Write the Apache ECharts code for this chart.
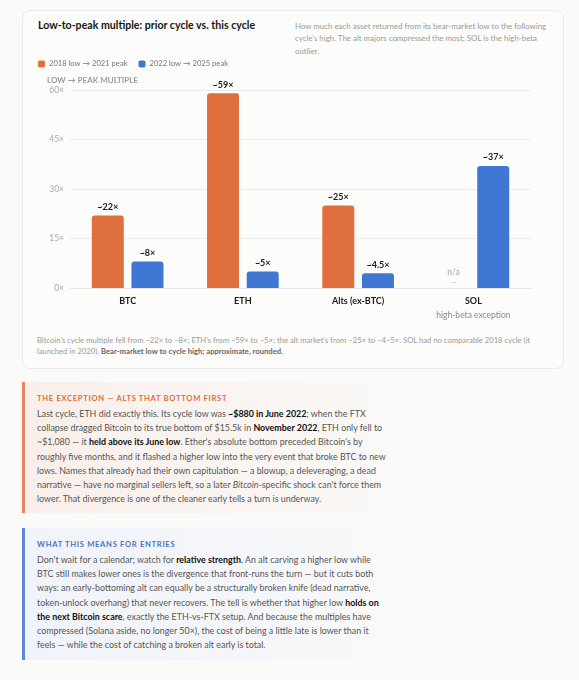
<!DOCTYPE html>
<html>
<head>
<meta charset="utf-8">
<script src="https://cdn.jsdelivr.net/npm/echarts@6/dist/echarts.min.js"></script>
<style>
  html, body { margin:0; padding:0; }
  body { width:579px; height:680px; background:#fafaf9; position:relative; overflow:hidden;
         font-family:"Lato","Open Sans",sans-serif; }
  .card { position:absolute; left:22px; top:10px; width:540px; height:357px;
          background:#fcfcfb; border:1px solid #eaeae8; border-radius:8px; }
  .title { position:absolute; left:38px; top:19px; font-size:10.6px; font-weight:700; color:#151515; white-space:nowrap; }
  .sub { position:absolute; left:295px; top:20px; font-size:7.9px; line-height:12.4px; color:#9a9a9a; white-space:nowrap; }
  #chart { position:absolute; left:22px; top:56px; width:541px; height:270px; }
  .foot { position:absolute; left:37px; top:335px; font-size:7.66px; line-height:10.5px; color:#9a9a9a; white-space:nowrap; }
  .foot b { color:#666; }
  .callout { position:absolute; left:22px; width:541px; box-sizing:border-box; padding-left:12px; }
  .c1 { top:382px; height:131px; border-left:3px solid #e0875f;
        background:linear-gradient(90deg,#f9efea 0%,#faf5f2 40%,#fafaf9 75%); }
  .c2 { top:528px; height:132px; border-left:3px solid #5d88d6;
        background:linear-gradient(90deg,#f0f3f9 0%,#f5f6f9 40%,#fafaf9 75%); }
  .h { position:absolute; left:12px; top:11px; font-size:7.6px; font-weight:700; letter-spacing:0.7px; white-space:nowrap; }
  .c1 .h { color:#d8703f; }
  .c2 .h { color:#4a74c4; }
  .body { position:absolute; left:12px; top:25px; font-size:8.9px; line-height:14.2px; color:#555; white-space:nowrap; }
  .body b { color:#111; }
</style>
</head>
<body>
<div class="card"></div>
<div class="title">Low-to-peak multiple: prior cycle vs. this cycle</div>
<div class="sub">How much each asset returned from its bear-market low to the following<br>cycle's high. The alt majors compressed the most; SOL is the high-beta<br>outlier.</div>
<div id="chart"></div>
<div class="foot">Bitcoin's cycle multiple fell from ~22× to ~8×; ETH's from ~59× to ~5×; the alt market's from ~25× to ~4–5×. SOL had no comparable 2018 cycle (it<br>launched in 2020). <b>Bear-market low to cycle high; approximate, rounded.</b></div>

<div class="callout c1">
  <div class="h">THE EXCEPTION — ALTS THAT BOTTOM FIRST</div>
  <div class="body">Last cycle, ETH did exactly this. Its cycle low was <b>~$880 in June 2022</b>; when the FTX<br>collapse dragged Bitcoin to its true bottom of $15.5k in <b>November 2022</b>, ETH only fell to<br>~$1,080 — it <b>held above its June low</b>. Ether's absolute bottom preceded Bitcoin's by<br>roughly five months, and it flashed a higher low into the very event that broke BTC to new<br>lows. Names that already had their own capitulation — a blowup, a deleveraging, a dead<br>narrative — have no marginal sellers left, so a later <i>Bitcoin</i>-specific shock can't force them<br>lower. That divergence is one of the cleaner early tells a turn is underway.</div>
</div>
<div class="callout c2">
  <div class="h">WHAT THIS MEANS FOR ENTRIES</div>
  <div class="body">Don't wait for a calendar; watch for <b>relative strength</b>. An alt carving a higher low while<br>BTC still makes lower ones is the divergence that front-runs the turn — but it cuts both<br>ways: an early-bottoming alt can equally be a structurally broken knife (dead narrative,<br>token-unlock overhang) that never recovers. The tell is whether that higher low <b>holds on<br>the next Bitcoin scare</b>, exactly the ETH-vs-FTX setup. And because the multiples have<br>compressed (Solana aside, no longer 50×), the cost of being a little late is lower than it<br>feels — while the cost of catching a broken alt early is total.</div>
</div>

<script>
const categories = ['BTC', 'ETH', 'Alts (ex-BTC)', 'SOL'];
const categoryNotes = ['', '', '', 'high-beta exception'];
const cycle2018 = [22, 59, 25, null];
const cycle2022 = [8, 5, 4.5, 37];
const seriesNames = ['2018 low → 2021 peak', '2022 low → 2025 peak'];
const yMin = 0, yMax = 60, yStep = 15;

const ORANGE = '#df6f3f';
const BLUE = '#3f77d2';
const FONT = 'Lato';

function toData(arr) {
  return arr.map(v => v === null
    ? { value: 0, label: { formatter: '{na|n/a}\n{dash|—}', distance: 1 } }
    : v);
}

const labelCommon = {
  show: true, position: 'top', distance: 4,
  formatter: p => '~' + p.value + '×',
  fontSize: 9, fontWeight: 'bold', color: '#1a1a1a',
  fontFamily: FONT,
  rich: {
    na: { fontSize: 8.5, color: '#aaa', fontWeight: 'normal', lineHeight: 11, fontFamily: FONT },
    dash: { fontSize: 8, color: '#bbb', fontWeight: 'normal', lineHeight: 9, fontFamily: FONT }
  }
};

const chart = echarts.init(document.getElementById('chart'));
chart.setOption({
  animation: false,
  textStyle: { fontFamily: FONT },
  title: {
    text: 'LOW → PEAK MULTIPLE', left: 25, top: 20, padding: 0,
    textStyle: { fontSize: 8, fontWeight: 'bold', color: '#9c9c9c', fontFamily: FONT }
  },
  legend: {
    left: 16, top: 4, padding: 0,
    itemWidth: 7, itemHeight: 7, itemGap: 11, icon: 'roundRect',
    textStyle: { fontSize: 7.6, color: '#777', padding: [0, 0, 0, -1], fontFamily: FONT },
    data: seriesNames
  },
  grid: { left: 48, right: 32, top: 34, bottom: 38, containLabel: false },
  xAxis: {
    type: 'category', data: categories,
    axisLine: { show: true, lineStyle: { color: '#e8e8e6' } },
    axisTick: { show: false },
    axisLabel: {
      margin: 7, interval: 0,
      formatter: (v, i) => categoryNotes[i] ? '{main|' + v + '}\n{note|' + categoryNotes[i] + '}' : '{main|' + v + '}',
      rich: {
        main: { fontSize: 9, fontWeight: 'bold', color: '#1a1a1a', lineHeight: 13, fontFamily: FONT },
        note: { fontSize: 8.5, color: '#8a8a8a', lineHeight: 15, fontFamily: FONT }
      }
    }
  },
  yAxis: {
    type: 'value', min: yMin, max: yMax, interval: yStep,
    axisLine: { show: false }, axisTick: { show: false },
    axisLabel: { formatter: '{value}×', fontSize: 8.5, color: '#a8a8a8', margin: 6, fontFamily: FONT },
    splitLine: { lineStyle: { color: '#ececea' } }
  },
  series: [
    {
      name: seriesNames[0], type: 'bar', data: toData(cycle2018),
      barWidth: 32, barGap: '24%',
      itemStyle: { color: ORANGE, borderRadius: [3, 3, 0, 0] },
      label: labelCommon
    },
    {
      name: seriesNames[1], type: 'bar', data: toData(cycle2022),
      barWidth: 32,
      itemStyle: { color: BLUE, borderRadius: [3, 3, 0, 0] },
      label: labelCommon
    }
  ]
});
</script>
</body>
</html>
